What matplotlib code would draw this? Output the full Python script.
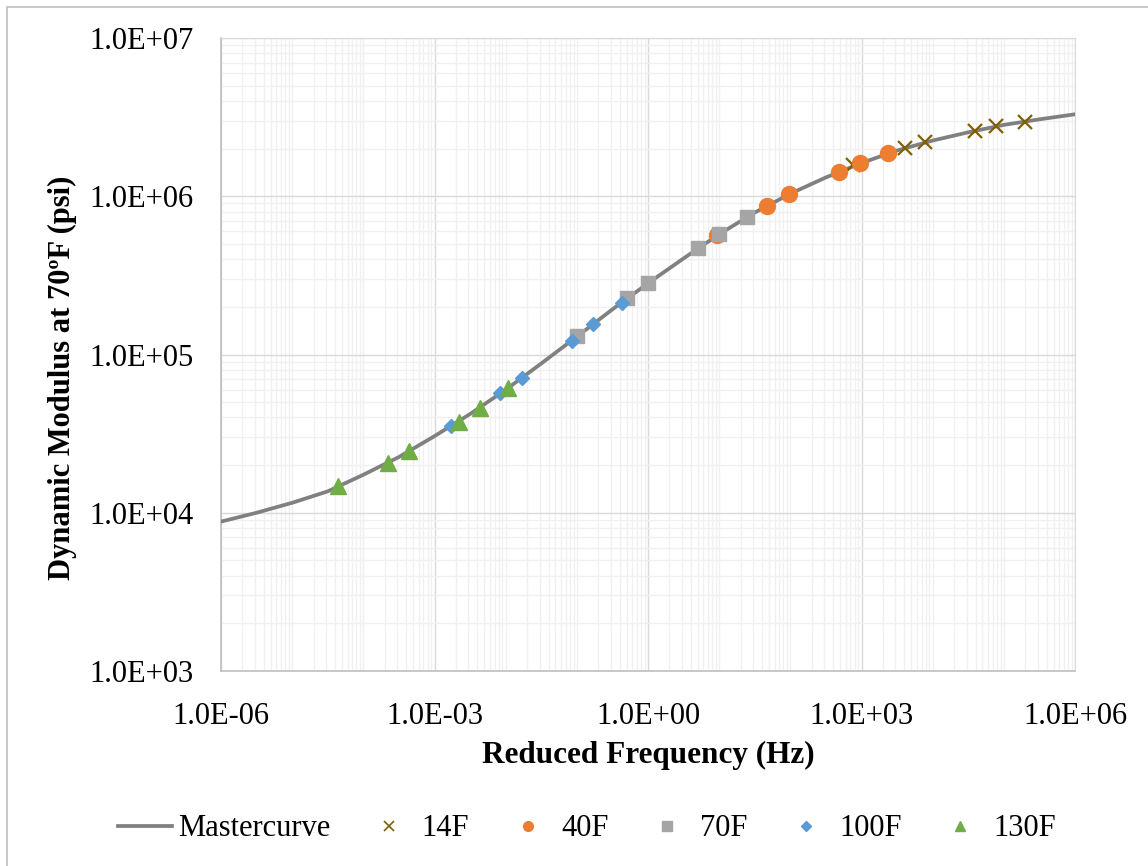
import matplotlib.pyplot as plt
from matplotlib.patches import Rectangle
from matplotlib.ticker import FixedLocator, LogLocator, FuncFormatter, NullFormatter
from matplotlib.lines import Line2D

plt.rcParams['font.family'] = ['Liberation Serif', 'DejaVu Serif']

# Mastercurve (every half decade)
curve_freq = [1e-6, 3.16e-6, 1e-5, 3.16e-5, 1e-4, 3.16e-4, 1e-3, 3.16e-3, 1e-2, 3.16e-2,
              1e-1, 3.16e-1, 1e0, 3.16e0, 1e1, 3.16e1, 1e2, 3.16e2, 1e3, 3.16e3,
              1e4, 3.16e4, 1e5, 3.16e5, 1e6]
curve_E = [8790, 10000, 11560, 13650, 17380, 22490, 30480, 42070, 59840, 87700,
           129700, 192800, 281800, 404600, 575400, 788800, 1.038e6, 1.315e6, 1.622e6, 1.945e6,
           2.249e6, 2.535e6, 2.825e6, 3.062e6, 3.296e6]

# measured points, reduced frequency (Hz) and |E*| (psi)
f_14 = [760, 4045, 7890, 3.98e4, 7.85e4, 1.96e5]
E_14 = [1.58e6, 2.01e6, 2.19e6, 2.60e6, 2.78e6, 2.96e6]
f_40 = [9.35, 47.7, 95.9, 478, 944, 2355]
E_40 = [5.70e5, 8.73e5, 1.03e6, 1.43e6, 1.62e6, 1.87e6]
f_70 = [0.1, 0.5, 1.0, 5.0, 10, 25]
E_70 = [1.30e5, 2.27e5, 2.82e5, 4.69e5, 5.78e5, 7.43e5]
f_100 = [1.68e-3, 8.3e-3, 1.71e-2, 8.6e-2, 0.17, 0.425]
E_100 = [3.54e4, 5.69e4, 7.15e4, 1.22e5, 1.55e5, 2.13e5]
f_130 = [4.45e-5, 2.24e-4, 4.42e-4, 2.22e-3, 4.35e-3, 1.08e-2]
E_130 = [1.47e4, 2.07e4, 2.44e4, 3.77e4, 4.62e4, 6.12e4]

x_ticks = [1e-6, 1e-3, 1e0, 1e3, 1e6]
y_ticks = [1e3, 1e4, 1e5, 1e6, 1e7]

fig = plt.figure(figsize=(11.48, 8.66), dpi=100)
ax = fig.add_axes([221/1148, 1 - 671/866, 854/1148, 633/866])

ax.plot(curve_freq, curve_E, color="#808080", lw=2.7, label="Mastercurve", zorder=3)
ax.plot(f_14, E_14, ls="none", marker="x", ms=10, mew=1.6, color="#7f6000", label="14F", zorder=4)
ax.plot(f_40, E_40, ls="none", marker="o", ms=11.5, color="#ed7d31", label="40F", zorder=5)
ax.plot(f_70, E_70, ls="none", marker="s", ms=10, color="#a5a5a5", label="70F", zorder=6)
ax.plot(f_100, E_100, ls="none", marker="D", ms=7, color="#5b9bd5", label="100F", zorder=7)
ax.plot(f_130, E_130, ls="none", marker="^", ms=11, color="#70ad47", label="130F", zorder=8)

ax.set_xscale("log")
ax.set_yscale("log")
ax.set_xlim(1e-6, 1e6)
ax.set_ylim(1e3, 1e7)

sci = FuncFormatter(lambda v, p: f"{v:.1E}")
ax.xaxis.set_major_locator(FixedLocator(x_ticks))
ax.xaxis.set_minor_locator(LogLocator(base=10, subs=range(1, 10), numticks=100))
ax.yaxis.set_major_locator(FixedLocator(y_ticks))
ax.yaxis.set_minor_locator(LogLocator(base=10, subs=range(2, 10), numticks=100))
ax.xaxis.set_major_formatter(sci)
ax.yaxis.set_major_formatter(sci)
ax.xaxis.set_minor_formatter(NullFormatter())
ax.yaxis.set_minor_formatter(NullFormatter())

ax.grid(True, which="minor", color="#f0f0f0", lw=1.0, zorder=0)
ax.grid(True, which="major", color="#d9d9d9", lw=1.0, zorder=1)
ax.set_axisbelow(True)
ax.tick_params(which="both", length=0)
ax.tick_params(axis="x", labelsize=22, pad=22)
ax.tick_params(axis="y", labelsize=22, pad=20)

for s in ["top", "right"]:
    ax.spines[s].set_color("#d9d9d9")
for s in ["left", "bottom"]:
    ax.spines[s].set_color("#bfbfbf")
    ax.spines[s].set_linewidth(1.2)

ax.set_xlabel("Reduced Frequency (Hz)", fontsize=22.5, fontweight="bold", va="center")
ax.xaxis.set_label_coords(0.5, -0.133)
ax.set_ylabel("Dynamic Modulus at 70ºF (psi)", fontsize=22, fontweight="bold", va="center", ha="center")
ax.yaxis.set_label_coords(-0.186, 0.463)

handles = [
    Line2D([], [], color="#808080", lw=2.7),
    Line2D([], [], ls="none", marker="x", ms=7, mew=1.2, color="#7f6000"),
    Line2D([], [], ls="none", marker="o", ms=7, color="#ed7d31"),
    Line2D([], [], ls="none", marker="s", ms=6.5, color="#a5a5a5"),
    Line2D([], [], ls="none", marker="D", ms=5, color="#5b9bd5"),
    Line2D([], [], ls="none", marker="^", ms=7, color="#70ad47"),
]
labels = ["Mastercurve", "14F", "40F", "70F", "100F", "130F"]
fig.legend(handles, labels, loc="center", bbox_to_anchor=(587/1148, 1 - 829/866), ncol=6,
           frameon=False, fontsize=22, handlelength=1.75, handletextpad=0.2, columnspacing=1.05)

# chart frame (only left and top edges fall inside the image)
fig.add_artist(Rectangle((7/1148, -0.05), 1.2, 1.05 - 7/866, transform=fig.transFigure,
                         fill=False, ec="#bfbfbf", lw=1.2))

fig.savefig("out.png", dpi=100)
